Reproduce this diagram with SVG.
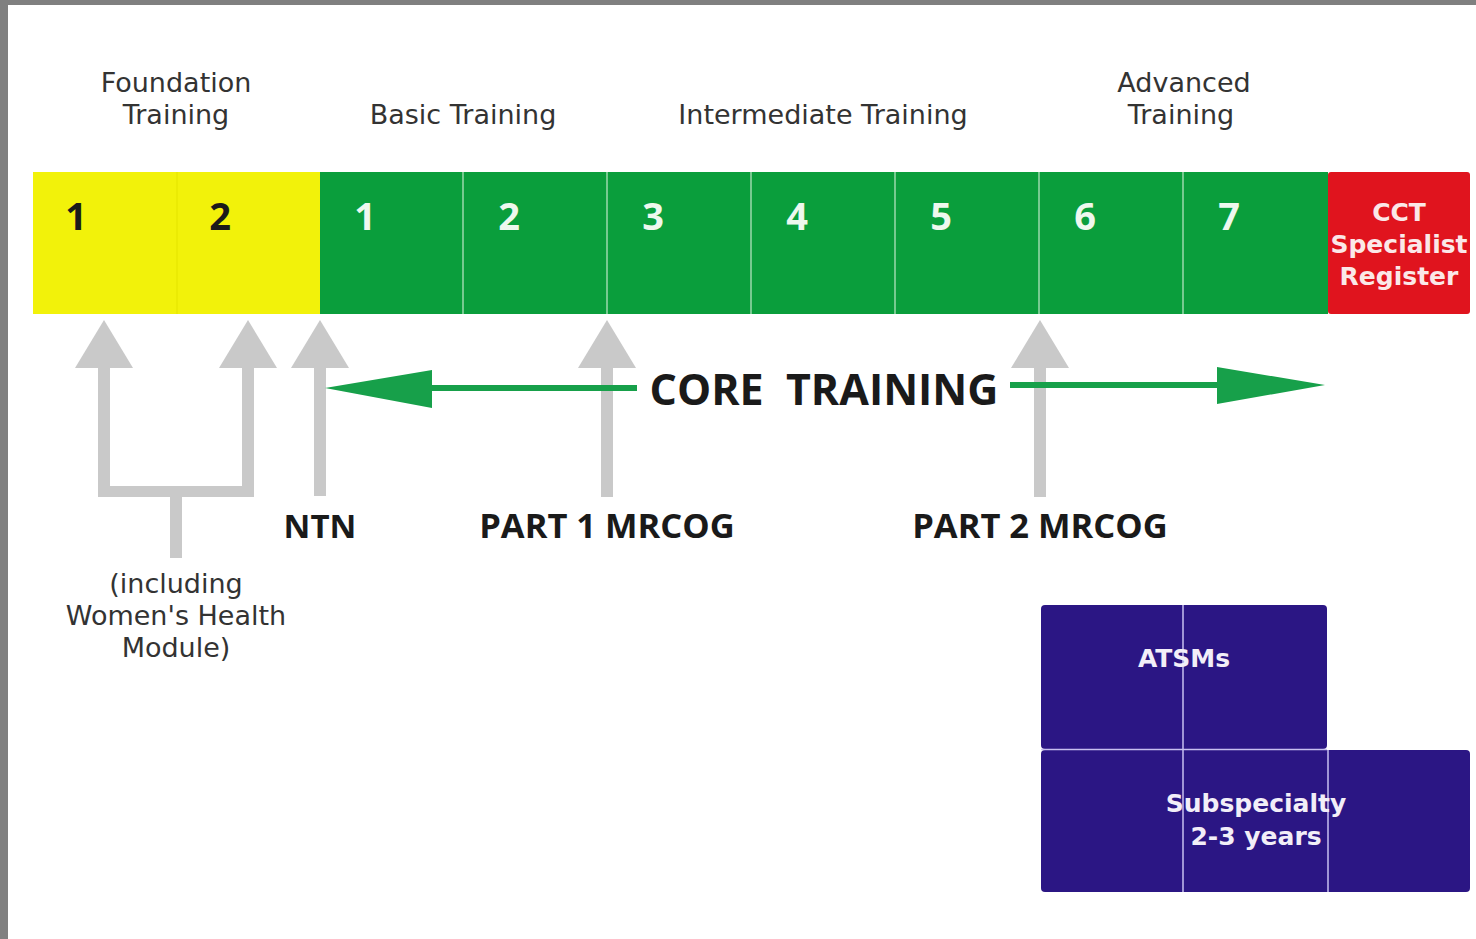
<svg xmlns="http://www.w3.org/2000/svg" width="1476" height="939" viewBox="0 0 1476 939">
<style>
.hdr{font-family:"DejaVu Sans","Open Sans",sans-serif;font-size:27px;fill:#333;text-anchor:middle}
.num{font-family:"Open Sans","Noto Sans",sans-serif;font-size:38px;font-weight:700;text-anchor:middle}
.wn{fill:#eef8ee}
.bn{fill:#1a1a1a}
.lbl{font-family:"Open Sans","Noto Sans",sans-serif;font-size:34.5px;font-weight:700;fill:#1a1a1a;text-anchor:middle}
.wt{font-family:"DejaVu Sans","Open Sans",sans-serif;font-size:25px;font-weight:700;fill:#f2eef8;text-anchor:middle}
.yc{fill:#f2f20a}
.gc{fill:#0a9e3c}
.pc{fill:#2b1684}
.div{stroke:#bfe8c8;stroke-width:1.2}
.pdiv{stroke:#c8c0f0;stroke-width:1.5}
.gray{fill:#c9c9c9}
</style>
<rect x="0" y="0" width="1476" height="939" fill="#808080"/>
<rect x="8" y="5" width="1468" height="934" fill="#ffffff"/>

<g id="headers">
<text class="hdr" x="176" y="92">Foundation</text>
<text class="hdr" x="176" y="124">Training</text>
<text class="hdr" x="463" y="124">Basic Training</text>
<text class="hdr" x="823" y="124">Intermediate Training</text>
<text class="hdr" x="1184" y="92">Advanced</text>
<text class="hdr" x="1181" y="124">Training</text>
</g>

<g id="foundation">
<rect class="yc" x="33" y="172" width="287" height="142"/>
<line x1="177" y1="172" x2="177" y2="314" stroke="#e6e600" stroke-width="1.2"/>
<text class="num bn" x="76" y="230">1</text>
<text class="num bn" x="220" y="230">2</text>
</g>

<g id="core-years">
<rect class="gc" x="320" y="172" width="1008" height="142"/>
<line class="div" x1="463" y1="172" x2="463" y2="314"/>
<line class="div" x1="607" y1="172" x2="607" y2="314"/>
<line class="div" x1="751" y1="172" x2="751" y2="314"/>
<line class="div" x1="895" y1="172" x2="895" y2="314"/>
<line class="div" x1="1039" y1="172" x2="1039" y2="314"/>
<line class="div" x1="1183" y1="172" x2="1183" y2="314"/>
<text class="num wn" x="365" y="230">1</text>
<text class="num wn" x="509" y="230">2</text>
<text class="num wn" x="653" y="230">3</text>
<text class="num wn" x="797" y="230">4</text>
<text class="num wn" x="941" y="230">5</text>
<text class="num wn" x="1085" y="230">6</text>
<text class="num wn" x="1229" y="230">7</text>
</g>

<g id="cct">
<rect x="1328" y="172" width="142" height="142" rx="3" fill="#e0141e"/>
<text class="wt" x="1399" y="221" style="fill:#fbe8e8">CCT</text>
<text class="wt" x="1399" y="253" style="fill:#fbe8e8">Specialist</text>
<text class="wt" x="1399" y="285" style="fill:#fbe8e8">Register</text>
</g>

<g id="connectors">
<polygon class="gray" points="104,320 133,368 75,368"/>
<rect class="gray" x="98" y="366" width="12" height="131"/>
<polygon class="gray" points="248,320 277,368 219,368"/>
<rect class="gray" x="242" y="366" width="12" height="131"/>
<rect class="gray" x="98" y="486" width="156" height="11"/>
<rect class="gray" x="170" y="490" width="12" height="68"/>
<polygon class="gray" points="320,320 349,368 291,368"/>
<rect class="gray" x="314" y="366" width="12" height="130"/>
<polygon class="gray" points="607,320 636,368 578,368"/>
<rect class="gray" x="601" y="366" width="12" height="131"/>
<polygon class="gray" points="1040,320 1069,368 1011,368"/>
<rect class="gray" x="1034" y="366" width="12" height="131"/>
<g fill="#17a04a">
<rect x="420" y="385" width="217" height="6"/>
<polygon points="325,388 432,370 432,408"/>
<rect x="1010" y="382" width="212" height="6"/>
<polygon points="1325,385 1217,367 1217,404"/>
</g>
</g>

<g id="core-label">
<text class="lbl" x="824" y="405" style="font-size:43px" xml:space="preserve">CORE  TRAINING</text>
</g>
<g id="ntn"><text class="lbl" x="320" y="538" style="font-size:33px">NTN</text></g>
<g id="part1"><text class="lbl" x="607" y="538">PART 1 MRCOG</text></g>
<g id="part2"><text class="lbl" x="1040" y="538">PART 2 MRCOG</text></g>

<g id="womens-health">
<text class="hdr" x="176" y="593">(including</text>
<text class="hdr" x="176" y="625">Women's Health</text>
<text class="hdr" x="176" y="657">Module)</text>
</g>

<g id="atsms">
<rect class="pc" x="1041" y="605" width="286" height="144" rx="4"/>
<line class="pdiv" x1="1183" y1="605" x2="1183" y2="749"/>
<text class="wt" x="1184" y="667">ATSMs</text>
</g>

<g id="subspecialty">
<rect class="pc" x="1041" y="750" width="429" height="142" rx="4"/>
<line class="pdiv" x1="1041" y1="749.5" x2="1327" y2="749.5"/>
<line class="pdiv" x1="1183" y1="750" x2="1183" y2="892"/>
<line class="pdiv" x1="1328" y1="750" x2="1328" y2="892"/>
<text class="wt" x="1256" y="812">Subspecialty</text>
<text class="wt" x="1256" y="845">2-3 years</text>
</g>
</svg>
